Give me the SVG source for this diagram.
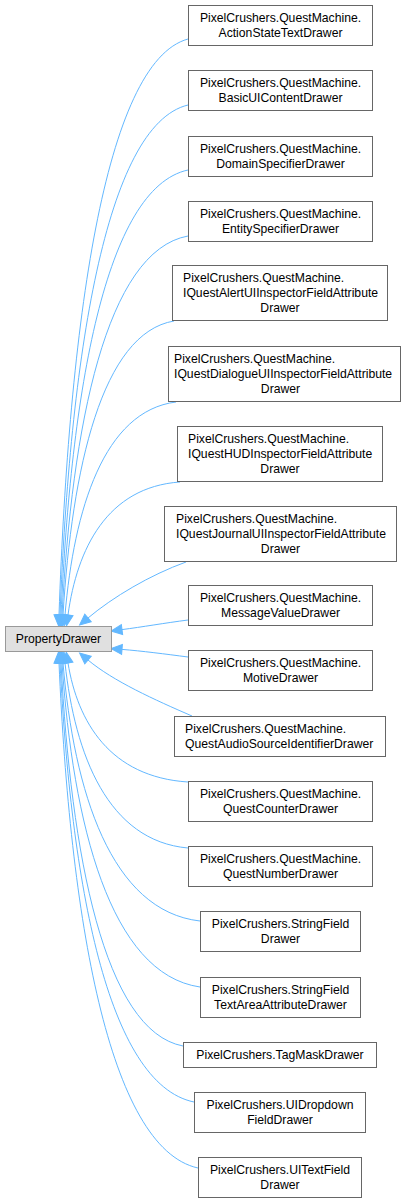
<svg xmlns="http://www.w3.org/2000/svg" width="406" height="1203" viewBox="0 0 406 1203">
<style>
.n rect{fill:#ffffff;stroke:#666666;stroke-width:1}
.b rect{fill:#e0e0e0;stroke:#999999;stroke-width:1}
text{font-family:"Liberation Sans",Arial,sans-serif;font-size:12.2px;fill:#000000}
.c{text-anchor:middle}
.e path{fill:none;stroke:#63b8ff;stroke-width:1;marker-end:url(#arr)}
</style>
<defs>
<marker id="arr" markerUnits="userSpaceOnUse" markerWidth="12" markerHeight="12" refX="0" refY="5" orient="auto" overflow="visible">
<path d="M0,0 L11,5 L0,10 Z" fill="#63b8ff" stroke="#63b8ff" stroke-width="1"/>
</marker>
</defs>
<rect x="0" y="0" width="406" height="1203" fill="#ffffff"/>
<g id="edges" class="e">
<path d="M188,39 C104,62 69,328 59,615"/>
<path d="M188,105 C105,125 70,360 60,615"/>
<path d="M188,170 C105,188 71,393 61,615"/>
<path d="M188,236 C106,251 72,426 62,615"/>
<path d="M174,321 C102,333 72,468 63,615"/>
<path d="M176,402 C104,411 74,509 65,615"/>
<path d="M180,482 C107,487 77,549 68,615"/>
<path d="M186,562 C150,575 113,597 88,618"/>
<path d="M188,620 C165,623 142,627 122,629.6"/>
<path d="M188,657 C165,654 142,651 122,649.4"/>
<path d="M192,716 C155,700 113,681 88,660"/>
<path d="M188,782 C110,777 77.6,722 68,663"/>
<path d="M188,848 C108,841 75,755 65,663"/>
<path d="M200,921 C111,911 74,792 63,663"/>
<path d="M200,987 C110,974 73,824 62,663"/>
<path d="M183,1046 C104,1031 71,854 61,663"/>
<path d="M194,1102 C107,1084 71,882 60,663"/>
<path d="M198,1168 C108,1148 70,915 59,663"/>
</g>
<g id="PropertyDrawer" class="b"><rect x="5.5" y="626.5" width="106" height="25"/><text class="c" x="58.5" y="643">PropertyDrawer</text></g>
<g id="ActionStateTextDrawer" class="n"><rect x="188.5" y="5.5" width="184" height="40"/><text class="c" x="280.5" y="22">PixelCrushers.QuestMachine.</text><text class="c" x="280.5" y="37">ActionStateTextDrawer</text></g>
<g id="BasicUIContentDrawer" class="n"><rect x="188.5" y="70.5" width="184" height="40"/><text class="c" x="280.5" y="87">PixelCrushers.QuestMachine.</text><text class="c" x="280.5" y="102">BasicUIContentDrawer</text></g>
<g id="DomainSpecifierDrawer" class="n"><rect x="188.5" y="136.5" width="184" height="40"/><text class="c" x="280.5" y="153">PixelCrushers.QuestMachine.</text><text class="c" x="280.5" y="168">DomainSpecifierDrawer</text></g>
<g id="EntitySpecifierDrawer" class="n"><rect x="188.5" y="201.5" width="184" height="40"/><text class="c" x="280.5" y="218">PixelCrushers.QuestMachine.</text><text class="c" x="280.5" y="233">EntitySpecifierDrawer</text></g>
<g id="IQuestAlertUIInspectorFieldAttributeDrawer" class="n"><rect x="172.5" y="265.5" width="215" height="55"/><text x="183" y="282">PixelCrushers.QuestMachine.</text><text x="183" y="297">IQuestAlertUIInspectorFieldAttribute</text><text class="c" x="280" y="312">Drawer</text></g>
<g id="IQuestDialogueUIInspectorFieldAttributeDrawer" class="n"><rect x="168.5" y="346.5" width="232" height="55"/><text x="174" y="363">PixelCrushers.QuestMachine.</text><text x="174" y="378">IQuestDialogueUIInspectorFieldAttribute</text><text class="c" x="280.5" y="393">Drawer</text></g>
<g id="IQuestHUDInspectorFieldAttributeDrawer" class="n"><rect x="177.5" y="426.5" width="205" height="55"/><text x="188" y="443">PixelCrushers.QuestMachine.</text><text x="188" y="458">IQuestHUDInspectorFieldAttribute</text><text class="c" x="280" y="473">Drawer</text></g>
<g id="IQuestJournalUIInspectorFieldAttributeDrawer" class="n"><rect x="164.5" y="506.5" width="232" height="55"/><text x="176" y="523">PixelCrushers.QuestMachine.</text><text x="176" y="538">IQuestJournalUIInspectorFieldAttribute</text><text class="c" x="280.5" y="553">Drawer</text></g>
<g id="MessageValueDrawer" class="n"><rect x="188.5" y="585.5" width="184" height="40"/><text class="c" x="280.5" y="602">PixelCrushers.QuestMachine.</text><text class="c" x="280.5" y="617">MessageValueDrawer</text></g>
<g id="MotiveDrawer" class="n"><rect x="188.5" y="650.5" width="184" height="40"/><text class="c" x="280.5" y="667">PixelCrushers.QuestMachine.</text><text class="c" x="280.5" y="682">MotiveDrawer</text></g>
<g id="QuestAudioSourceIdentifierDrawer" class="n"><rect x="174.5" y="716.5" width="211" height="40"/><text x="185" y="733">PixelCrushers.QuestMachine.</text><text x="185" y="748">QuestAudioSourceIdentifierDrawer</text></g>
<g id="QuestCounterDrawer" class="n"><rect x="188.5" y="781.5" width="184" height="40"/><text class="c" x="280.5" y="798">PixelCrushers.QuestMachine.</text><text class="c" x="280.5" y="813">QuestCounterDrawer</text></g>
<g id="QuestNumberDrawer" class="n"><rect x="188.5" y="846.5" width="184" height="40"/><text class="c" x="280.5" y="863">PixelCrushers.QuestMachine.</text><text class="c" x="280.5" y="878">QuestNumberDrawer</text></g>
<g id="StringFieldDrawer" class="n"><rect x="200.5" y="911.5" width="160" height="40"/><text class="c" x="280.5" y="928">PixelCrushers.StringField</text><text class="c" x="280.5" y="943">Drawer</text></g>
<g id="StringFieldTextAreaAttributeDrawer" class="n"><rect x="200.5" y="977.5" width="160" height="40"/><text class="c" x="280.5" y="994">PixelCrushers.StringField</text><text class="c" x="280.5" y="1009">TextAreaAttributeDrawer</text></g>
<g id="TagMaskDrawer" class="n"><rect x="183.5" y="1042.5" width="193" height="25"/><text class="c" x="280" y="1059">PixelCrushers.TagMaskDrawer</text></g>
<g id="UIDropdownFieldDrawer" class="n"><rect x="194.5" y="1092.5" width="171" height="40"/><text class="c" x="280" y="1109">PixelCrushers.UIDropdown</text><text class="c" x="280" y="1124">FieldDrawer</text></g>
<g id="UITextFieldDrawer" class="n"><rect x="198.5" y="1157.5" width="163" height="40"/><text class="c" x="280" y="1174">PixelCrushers.UITextField</text><text class="c" x="280" y="1189">Drawer</text></g>
</svg>
